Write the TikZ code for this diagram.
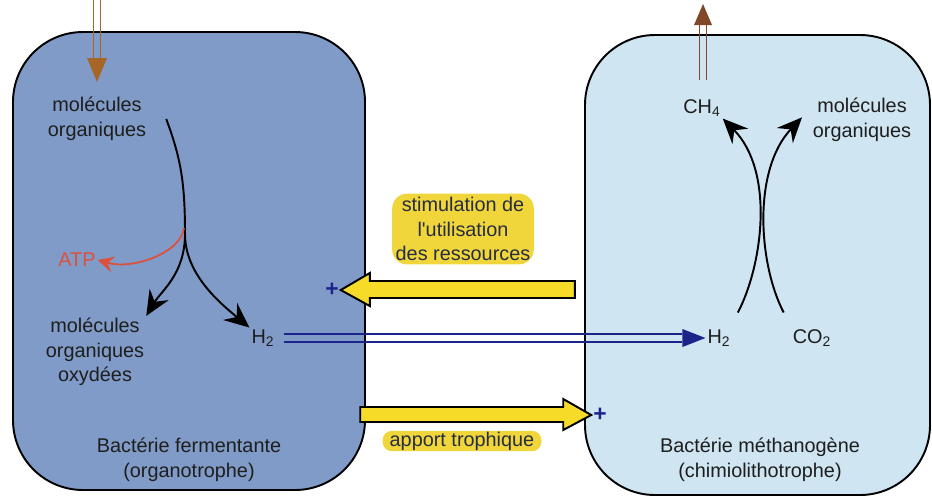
\documentclass[tikz,border=0pt]{standalone}
\usepackage{fontspec}
\setmainfont{Liberation Sans}
\usepackage{tikz}
\usetikzlibrary{arrows.meta,calc,positioning}

\definecolor{fermblue}{RGB}{128,155,199}
\definecolor{methblue}{RGB}{207,229,241}
\definecolor{fluxbrown}{RGB}{165,102,40}
\definecolor{ch4brown}{RGB}{128,72,38}
\definecolor{h2blue}{RGB}{28,36,140}
\definecolor{atpred}{RGB}{220,80,62}
\definecolor{signalyellow}{RGB}{246,220,40}
\definecolor{labelyellow}{RGB}{240,214,58}
\definecolor{txtgray}{RGB}{30,30,30}
\definecolor{labeltxt}{RGB}{38,44,66}

\tikzset{
  txt/.style={font=\fontsize{11.3}{14}\selectfont, text=txtgray, align=center, inner sep=1pt},
  cell/.style={draw=black, line width=1.1pt, rounded corners=1.4cm},
  flow/.style={draw=black, line width=1.1pt, -{Stealth[length=5mm,width=4.4mm,inset=1.7mm]}},
  atpflow/.style={draw=atpred, line width=1pt, -{Stealth[length=3.2mm,width=3.2mm,inset=1.1mm]}},
  bigarrow/.style={draw=black, line width=1.1pt, fill=signalyellow, line join=miter},
  tag/.style={txt, fill=labelyellow, text=labeltxt, rounded corners=0.3cm, inner xsep=2pt, inner ysep=2pt},
  plussign/.style={txt, text=h2blue, font=\fontsize{13}{14}\selectfont\bfseries, inner sep=1pt},
  h2line/.style={draw=h2blue, line width=1pt},
}

\begin{document}
\begin{tikzpicture}[x=0.02cm,y=-0.02cm]
  \useasboundingbox (0,0) rectangle (932,498);

  % the two cells
  \draw[cell, fill=fermblue] (13,32) rectangle (365,490);
  \draw[cell, fill=methblue] (585,35) rectangle (930,495);

  % fermenting bacterium
  \node[txt] (molL) at (97,119) {molécules\\organiques};
  \node[txt, text=atpred] (atp) at (77,260) {ATP};
  \node[txt] (oxy) at (95,352) {molécules\\organiques\\oxydées};
  \node[txt] (h2l) at (263,338) {H\textsubscript{2}};
  \node[txt] (titleL) at (189,460) {Bactérie fermentante\\(organotrophe)};

  % methanogen
  \node[txt] (ch4) at (702,108) {CH\textsubscript{4}};
  \node[txt] (molR) at (862,120) {molécules\\organiques};
  \node[txt] (h2r) at (719,338) {H\textsubscript{2}};
  \node[txt] (co2) at (812,338) {CO\textsubscript{2}};
  \node[txt] (titleR) at (760,460) {Bactérie méthanogène\\(chimiolithotrophe)};

  % interactions
  \node[tag] (stim) at (463,229) {stimulation de\\l\textquotesingle utilisation\\des ressources};
  \node[tag, rounded corners=0.18cm, inner ysep=0.5pt, inner xsep=4pt] (apport) at (462,441) {apport trophique};
  \node[plussign] (plusL) at (332,290) {+};
  \node[plussign] (plusR) at (600,415) {+};

  % fermentation
  \coordinate (fork) at (185,234);
  \draw[line width=1.1pt] ([xshift=0.36cm]molL.east) .. controls +(15,40) and +(0,-50) .. (fork);
  \draw[atpflow] ($(fork)+(-1,-6)$) .. controls +(-3,25) and +(35,10) .. (atp.east);
  \draw[flow] (fork) .. controls +(0,40) and +(15,-25) .. (oxy.north east);
  \draw[flow] (fork) .. controls +(0,40) and +(-30,-25) .. (h2l.north west);

  % methanogenesis
  \draw[flow] ([xshift=3pt,yshift=8.5pt]h2r.north east) .. controls +(25,-48) and +(52,53) .. (ch4.south east);
  \draw[flow] ([xshift=-4pt,yshift=8.5pt]co2.north west) .. controls +(-25,-48) and +(-50,53) .. ([xshift=-5pt,yshift=1.5pt]molR.west);

  % organic matter in, methane out
  \coordinate (inTop) at (97,0);
  \coordinate (inTip) at (97,82);
  \draw[fluxbrown, line width=0.9pt] ($(inTop)+(-3.5,0)$) -- ($(inTip)+(-3.5,-24)$)
                                     ($(inTop)+(3.5,0)$) -- ($(inTip)+(3.5,-24)$);
  \fill[fluxbrown] ($(inTip)+(-10,-24)$) -- (inTip) -- ($(inTip)+(10,-24)$) -- cycle;

  \coordinate (outTip) at (703,4);
  \draw[ch4brown, line width=0.9pt] ([yshift=10pt]ch4.north -| outTip) ++(-3.5,0) -- ($(outTip)+(-3.5,21)$)
                                    ([yshift=10pt]ch4.north -| outTip) ++(3.5,0) -- ($(outTip)+(3.5,21)$);
  \fill[ch4brown] ($(outTip)+(-9,21)$) -- (outTip) -- ($(outTip)+(9,21)$) -- cycle;

  % hydrogen transfer
  \coordinate (h2head) at ($(h2r.west)+(-23,0)$);
  \draw[h2line] ([xshift=4pt,yshift=2.3pt]h2l.east) -- ([yshift=2.3pt]h2head)
                ([xshift=4pt,yshift=-2.3pt]h2l.east) -- ([yshift=-2.3pt]h2head);
  \fill[h2blue] ($(h2head)+(0,-9)$) -- (h2r.west) -- ($(h2head)+(0,9)$) -- cycle;

  % large yellow arrows
  \draw[bigarrow] (plusL.east) -- ++(29,-17) -- ++(0,8) -- ++(205,0) -- ++(0,17)
                  -- ++(-205,0) -- ++(0,8) -- cycle;
  \draw[bigarrow] (plusR.west) -- ++(-28,-16) -- ++(0,8) -- ++(-203,0) -- ++(0,15)
                  -- ++(203,0) -- ++(0,8) -- cycle;
\end{tikzpicture}
\end{document}
